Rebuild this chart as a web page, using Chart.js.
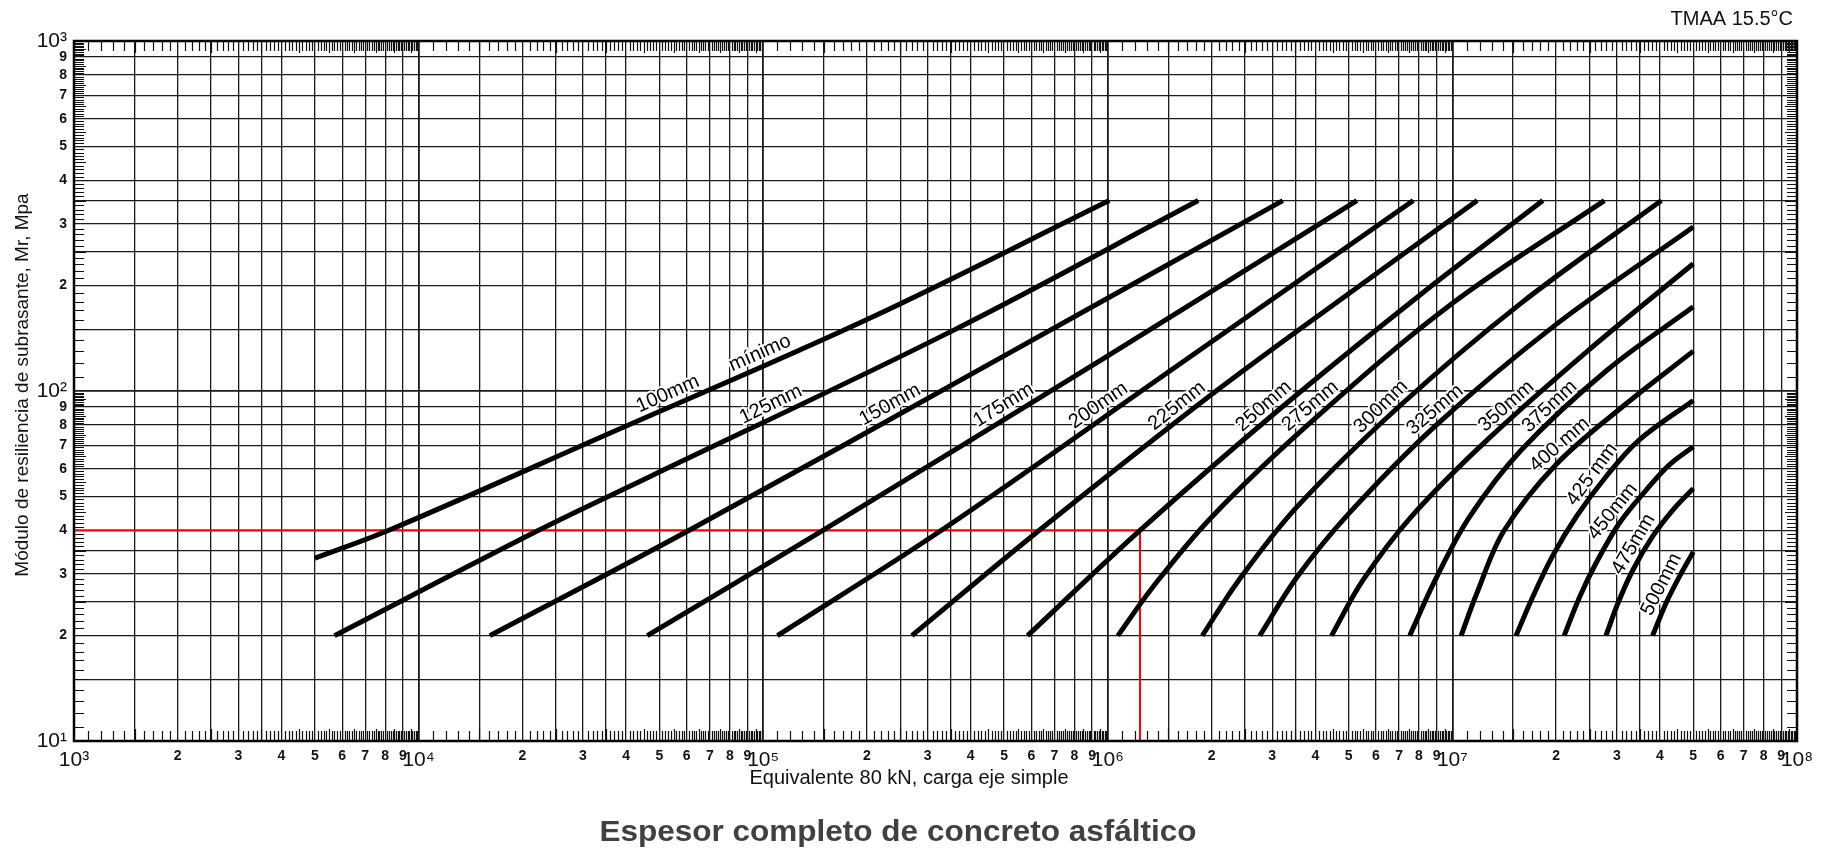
<!DOCTYPE html>
<html><head><meta charset="utf-8">
<script src="https://cdn.jsdelivr.net/npm/chart.js@4.4.1/dist/chart.umd.min.js"></script>
<style>html,body{margin:0;padding:0;background:#fff;}canvas{display:block;}</style>
</head><body>
<canvas id="c" width="1827" height="849"></canvas>
<script>
// ---------- axis / tick definitions ----------
const xRange = [1e3, 1e8];             // Equivalente 80 kN (ESAL)
const yRange = [10, 1000];             // Mr, MPa
const gridMantissas = [1, 1.5, 2, 2.5, 3, 3.5, 4, 5, 6, 7, 8, 9];
const labelledMantissas = [2, 3, 4, 5, 6, 7, 8, 9];
const superscripts = ['⁰','¹','²','³','⁴','⁵','⁶','⁷','⁸','⁹'];

// ---------- thickness curves (ESAL, Mr) ----------
const w100 = [5.0e3, 8.2e3, 3.4e4, 2.0e5, 1.01e6];            const m100 = [33.3, 40, 74, 160, 350];
const w125 = [5.7e3, 2.23e4, 4.7e4, 3.56e5, 1.83e6];          const m125 = [20, 40, 57, 149, 350];
const w150 = [1.61e4, 6.1e4, 5.0e5, 3.22e6];                  const m150 = [20, 40, 126, 350];
const w175 = [4.61e4, 1.49e5, 1.0e6, 5.28e6];                 const m175 = [20, 40, 126, 350];
const w200 = [1.1e5, 3.29e5, 1.58e6, 7.7e6];                  const m200 = [20, 40, 117.5, 350];
const w225 = [2.7e5, 6.33e5, 2.0e6, 5.01e6, 1.18e7];          const m225 = [20, 40, 97.7, 190, 350];
const w250 = [5.85e5, 1.24e6, 3.16e6, 7.94e6, 1.83e7];        const m250 = [20, 40, 89, 186, 350];
const w275 = [1.07e6, 1.35e6, 2.0e6, 3.98e6, 1.0e7, 2.76e7];  const m275 = [20, 27.5, 43.6, 83.2, 178, 350];
const w300 = [1.88e6, 2.4e6, 3.55e6, 7.08e6, 1.58e7, 4.04e7]; const m300 = [20, 28.8, 46.8, 91.2, 178, 350];
const w325 = [2.76e6, 3.55e6, 5.01e6, 8.91e6, 2.0e7, 5.0e7];  const m325 = [20, 29.5, 44.7, 79.4, 155, 294];
const w350 = [4.46e6, 5.5e6, 7.59e6, 1.26e7, 2.51e7, 5.0e7];  const m350 = [20, 28.8, 43.7, 72.4, 132, 231];
const w375 = [7.52e6, 8.91e6, 1.12e7, 1.58e7, 2.82e7, 5.0e7]; const m375 = [20, 28.8, 43.6, 67.6, 115, 174];
const w400 = [1.06e7, 1.175e7, 1.41e7, 2.0e7, 3.16e7, 5.0e7]; const m400 = [20, 26.3, 39.8, 61.7, 91.2, 130];
const w425 = [1.53e7, 1.71e7, 1.95e7, 2.29e7, 2.79e7, 3.48e7, 5.0e7]; const m425 = [20, 25.8, 33.7, 43.8, 56.9, 72.4, 94];
const w450 = [2.11e7, 2.34e7, 2.61e7, 3.05e7, 3.65e7, 4.26e7, 5.0e7]; const m450 = [20, 25.8, 32.2, 41.9, 52.1, 61.5, 69.3];
const w475 = [2.79e7, 3.02e7, 3.34e7, 3.81e7, 4.36e7, 5.0e7]; const m475 = [20, 24.7, 30.8, 38.4, 45.7, 52.7];
const w500 = [3.81e7, 4.17e7, 4.55e7, 5.0e7];                 const m500 = [20, 24.8, 29.4, 34.7];

const curveW = [w100, w125, w150, w175, w200, w225, w250, w275, w300, w325, w350, w375, w400, w425, w450, w475, w500];
const curveM = [m100, m125, m150, m175, m200, m225, m250, m275, m300, m325, m350, m375, m400, m425, m450, m475, m500];

// ---------- curve labels (text, curve index, Mr where it sits on the curve) ----------
const labelTexts = ['100mm', 'mínimo', '125mm', '150mm', '175mm', '200mm', '225mm', '250mm', '275mm', '300mm', '325mm', '350mm', '375mm', '400 mm', '425 mm', '450mm', '475mm', '500mm'];
const labelCurve = [0, 0, 1, 2, 3, 4, 5, 6, 7, 8, 9, 10, 11, 12, 13, 14, 15, 16];
const labelMr    = [91, 119, 85, 85, 85, 85, 85, 85, 85, 85, 83, 85, 85, 66, 55, 43, 35, 27];

// ---------- worked example (red) ----------
const exampleW  = [1e3, 1.24e6, 1.24e6];
const exampleMr = [40, 40, 10];

// ---------- texts ----------
const xTitle = 'Equivalente 80 kN, carga eje simple';
const yTitle = 'Módulo de resiliencia de subrasante, Mr, Mpa';
const mainTitle = 'Espesor completo de concreto asfáltico';
const cornerNote = 'TMAA 15.5°C';

const FONT = '"Liberation Sans", Arial, Helvetica, sans-serif';

function isDecade(v) {
  if (!v) return false;
  const l = Math.log10(v);
  return Math.abs(l - Math.round(l)) < 1e-9;
}
function buildLogTicks(min, max) {
  const out = [];
  const d0 = Math.round(Math.log10(min)), d1 = Math.round(Math.log10(max));
  for (let d = d0; d <= d1; d++) {
    for (const m of gridMantissas) {
      const v = m * Math.pow(10, d);
      if (v <= max * 1.000001) out.push({ value: v, major: m === 1 });
    }
  }
  return out;
}
function tickLabel(v) {
  const e = Math.floor(Math.log10(v) + 1e-9);
  const m = Math.round(v / Math.pow(10, e) * 10) / 10;
  if (m === 1) return '10' + superscripts[e];
  return labelledMantissas.includes(m) ? String(m) : '';
}
const tickFont = (c) => (c.tick && isDecade(c.tick.value))
  ? { family: FONT, size: 21 }
  : { family: FONT, size: 14, weight: 'bold' };
const gridWidth = (c) => (c.tick && isDecade(c.tick.value)) ? 1.8 : 1.3;

const datasets = [];
curveW.forEach((ws, i) => {
  datasets.push({
    data: ws.map((w, k) => ({ x: w, y: curveM[i][k] })),
    borderColor: '#000', borderWidth: 5, pointRadius: 0,
    tension: 0.35, borderCapStyle: 'butt', borderJoinStyle: 'round',
    order: 1
  });
});
datasets.push({
  data: exampleW.map((w, k) => ({ x: w, y: exampleMr[k] })),
  borderColor: '#ff0000', borderWidth: 2, pointRadius: 0, tension: 0, order: 5
});

const decorPlugin = {
  id: 'decor',
  afterDatasetsDraw(chart) {
    const { ctx, chartArea: a, scales: { x, y } } = chart;
    ctx.save();
    // inner edge ticks
    ctx.strokeStyle = '#111';
    ctx.lineWidth = 1.2;
    ctx.beginPath();
    const xd0 = Math.round(Math.log10(xRange[0])), xd1 = Math.round(Math.log10(xRange[1]));
    for (let d = xd0; d < xd1; d++) {
      for (let k = 11; k < 100; k++) {
        if (k % 10 === 0) continue;
        const px = Math.round(x.getPixelForValue(k / 10 * Math.pow(10, d))) + 0.5;
        const len = (k % 5 === 0) ? 12 : 10;
        ctx.moveTo(px, a.bottom); ctx.lineTo(px, a.bottom - len);
        ctx.moveTo(px, a.top); ctx.lineTo(px, a.top + len);
      }
    }
    const yd0 = Math.round(Math.log10(yRange[0])), yd1 = Math.round(Math.log10(yRange[1]));
    for (let d = yd0; d < yd1; d++) {
      for (let k = 11; k < 100; k++) {
        if (k % 10 === 0) continue;
        const py = Math.round(y.getPixelForValue(k / 10 * Math.pow(10, d))) + 0.5;
        const len = (k % 5 === 0) ? 12 : 10;
        ctx.moveTo(a.left, py); ctx.lineTo(a.left + len, py);
        ctx.moveTo(a.right, py); ctx.lineTo(a.right - len, py);
      }
    }
    ctx.stroke();
    // frame
    ctx.lineWidth = 2.5;
    ctx.strokeStyle = '#000';
    ctx.strokeRect(a.left, a.top, a.right - a.left, a.bottom - a.top);

    // curve labels
    ctx.font = '20px ' + FONT;
    ctx.textAlign = 'center';
    ctx.textBaseline = 'alphabetic';
    ctx.lineJoin = 'round';
    labelTexts.forEach((txt, j) => {
      const meta = chart.getDatasetMeta(labelCurve[j]);
      const pts = meta.data.map(p => ({ x: p.x, y: p.y }));
      const ty = y.getPixelForValue(labelMr[j]);
      for (let k = 0; k < pts.length - 1; k++) {
        const p0 = pts[k], p1 = pts[k + 1];
        if (p0.y >= ty && p1.y <= ty) {
          const t = (p0.y - ty) / (p0.y - p1.y);
          const px = p0.x + t * (p1.x - p0.x);
          const ang = Math.atan2(p1.y - p0.y, p1.x - p0.x);
          ctx.save();
          ctx.translate(px, ty);
          ctx.rotate(ang);
          ctx.lineWidth = 4;
          ctx.strokeStyle = '#fff';
          ctx.strokeText(txt, 0, -7);
          ctx.fillStyle = '#000';
          ctx.fillText(txt, 0, -7);
          ctx.restore();
          break;
        }
      }
    });

    // titles
    ctx.fillStyle = '#111';
    ctx.font = '20px ' + FONT;
    ctx.textAlign = 'right';
    ctx.fillText(cornerNote, a.right - 4, 25);

    ctx.textAlign = 'center';
    ctx.font = '20px ' + FONT;
    ctx.fillText(xTitle, 909, 784);

    ctx.save();
    ctx.translate(23, 385);
    ctx.rotate(-Math.PI / 2);
    ctx.font = '19px ' + FONT;
    ctx.textBaseline = 'middle';
    ctx.fillText(yTitle, 0, 0);
    ctx.restore();

    ctx.save();
    ctx.font = 'bold 29px ' + FONT;
    ctx.fillStyle = '#404040';
    const tw = ctx.measureText(mainTitle).width;
    const sx = 597 / tw;
    ctx.translate(898, 841);
    ctx.scale(sx, 1);
    ctx.textAlign = 'center';
    ctx.fillText(mainTitle, 0, 0);
    ctx.restore();

    ctx.restore();
  }
};

new Chart(document.getElementById('c'), {
  type: 'line',
  data: { datasets },
  options: {
    responsive: false, animation: false, devicePixelRatio: 1,
    layout: { padding: { left: 0, right: 30, top: 41, bottom: 0 } },
    plugins: { legend: { display: false }, tooltip: { enabled: false } },
    elements: { point: { radius: 0 } },
    scales: {
      x: {
        type: 'logarithmic', min: xRange[0], max: xRange[1], position: 'bottom',
        afterBuildTicks: (s) => { s.ticks = buildLogTicks(xRange[0], xRange[1]); },
        afterFit: (s) => { s.height = 108; },
        grid: { color: '#1a1a1a', lineWidth: gridWidth, drawTicks: false },
        border: { display: false },
        ticks: { autoSkip: false, maxRotation: 0, minRotation: 0, padding: 7, color: '#111',
                 font: tickFont, callback: (v) => tickLabel(v) }
      },
      y: {
        type: 'logarithmic', min: yRange[0], max: yRange[1], position: 'left',
        afterBuildTicks: (s) => { s.ticks = buildLogTicks(yRange[0], yRange[1]); },
        afterFit: (s) => { s.width = 74; },
        grid: { color: '#1a1a1a', lineWidth: gridWidth, drawTicks: false },
        border: { display: false },
        ticks: { autoSkip: false, padding: 7, color: '#111',
                 font: tickFont, callback: (v) => tickLabel(v) }
      }
    }
  },
  plugins: [decorPlugin]
});
</script>
</body></html>
